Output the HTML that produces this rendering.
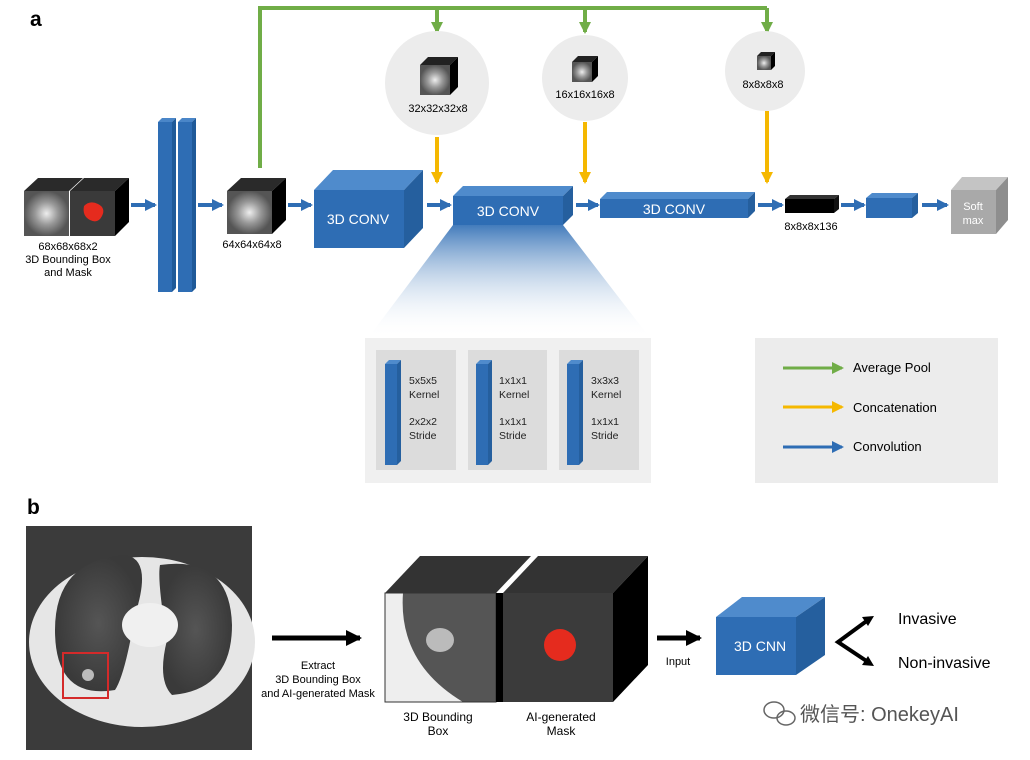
<!DOCTYPE html>
<html><head><meta charset="utf-8"><style>
html,body{margin:0;padding:0;background:#fff;}
svg{display:block;font-family:"Liberation Sans",Arial,sans-serif;}
</style></head><body>
<svg width="1030" height="760" viewBox="0 0 1030 760" xmlns="http://www.w3.org/2000/svg">
<defs>
<marker id="ab" markerWidth="12" markerHeight="12" refX="10" refY="6" orient="auto" markerUnits="userSpaceOnUse"><path d="M0,0 L12,6 L0,12 z" fill="#2e6db4"/></marker>
<marker id="ag" markerWidth="12" markerHeight="12" refX="10" refY="6" orient="auto" markerUnits="userSpaceOnUse"><path d="M0,0 L12,6 L0,12 z" fill="#70ad47"/></marker>
<marker id="ay" markerWidth="12" markerHeight="12" refX="10" refY="6" orient="auto" markerUnits="userSpaceOnUse"><path d="M0,0 L12,6 L0,12 z" fill="#f5b800"/></marker>
<marker id="ak" markerWidth="16" markerHeight="16" refX="14" refY="8" orient="auto" markerUnits="userSpaceOnUse"><path d="M0,0 L16,8 L0,16 z" fill="#000"/></marker>
<linearGradient id="tri" x1="0" y1="0" x2="0" y2="1"><stop offset="0" stop-color="#2e6db4"/><stop offset="1" stop-color="#fff" stop-opacity="0"/></linearGradient>
<radialGradient id="ct" cx="0.5" cy="0.5" r="0.5"><stop offset="0" stop-color="#eee"/><stop offset="0.5" stop-color="#999"/><stop offset="1" stop-color="#555"/></radialGradient>
<radialGradient id="lung" cx="0.5" cy="0.5" r="0.5"><stop offset="0" stop-color="#555"/><stop offset="1" stop-color="#3a3a3a"/></radialGradient>
</defs>

<text x="30" y="26" font-size="21" font-weight="bold">a</text>
<text x="27" y="514" font-size="21" font-weight="bold">b</text>

<polyline points="260,168 260,8 767,8" fill="none" stroke="#70ad47" stroke-width="4"/>
<line x1="437" y1="8" x2="437" y2="32" stroke="#70ad47" stroke-width="4" marker-end="url(#ag)"/>
<line x1="585" y1="8" x2="585" y2="32" stroke="#70ad47" stroke-width="4" marker-end="url(#ag)"/>
<line x1="767" y1="8" x2="767" y2="32" stroke="#70ad47" stroke-width="4" marker-end="url(#ag)"/>

<circle cx="437" cy="83" r="52" fill="#ececec"/>
<circle cx="585" cy="78" r="43" fill="#ececec"/>
<circle cx="765" cy="71" r="40" fill="#ececec"/>
<g><polygon points="420,65 428,57 458,57 450,65" fill="#222"/><polygon points="450,65 458,57 458,87 450,95" fill="#000"/><rect x="420" y="65" width="30" height="30" fill="url(#ct)"/></g>
<g><polygon points="572,62 578,56 598,56 592,62" fill="#222"/><polygon points="592,62 598,56 598,76 592,82" fill="#000"/><rect x="572" y="62" width="20" height="20" fill="url(#ct)"/></g>
<g><polygon points="757,56 761,52 775,52 771,56" fill="#222"/><polygon points="771,56 775,52 775,66 771,70" fill="#000"/><rect x="757" y="56" width="14" height="14" fill="url(#ct)"/></g>
<text x="438" y="112" font-size="11" text-anchor="middle">32x32x32x8</text>
<text x="585" y="98" font-size="11" text-anchor="middle">16x16x16x8</text>
<text x="763" y="88" font-size="11" text-anchor="middle">8x8x8x8</text>

<line x1="437" y1="137" x2="437" y2="182" stroke="#f5b800" stroke-width="4" marker-end="url(#ay)"/>
<line x1="585" y1="122" x2="585" y2="182" stroke="#f5b800" stroke-width="4" marker-end="url(#ay)"/>
<line x1="767" y1="111" x2="767" y2="182" stroke="#f5b800" stroke-width="4" marker-end="url(#ay)"/>

<polygon points="24,191 38,178 83,178 69,191" fill="#2a2a2a"/>
<rect x="24" y="191" width="45" height="45" fill="url(#ct)"/>
<polygon points="70,191 84,178 129,178 115,191" fill="#2a2a2a"/>
<polygon points="115,191 129,178 129,222 115,236" fill="#000"/>
<rect x="70" y="191" width="45" height="45" fill="#3a3a3a"/>
<path d="M84,206 q6,-6 14,-2 q8,4 4,12 q-4,8 -12,4 q-8,-4 -6,-14z" fill="#e52b1e"/>
<text x="68" y="250" font-size="11" text-anchor="middle">68x68x68x2</text>
<text x="68" y="263" font-size="11" text-anchor="middle">3D Bounding Box</text>
<text x="68" y="276" font-size="11" text-anchor="middle">and Mask</text>

<g stroke="#2e6db4" stroke-width="4">
<line x1="131" y1="205" x2="155" y2="205" marker-end="url(#ab)"/>
<line x1="198" y1="205" x2="222" y2="205" marker-end="url(#ab)"/>
<line x1="288" y1="205" x2="311" y2="205" marker-end="url(#ab)"/>
<line x1="427" y1="205" x2="450" y2="205" marker-end="url(#ab)"/>
<line x1="576" y1="205" x2="598" y2="205" marker-end="url(#ab)"/>
<line x1="758" y1="205" x2="782" y2="205" marker-end="url(#ab)"/>
<line x1="841" y1="205" x2="864" y2="205" marker-end="url(#ab)"/>
<line x1="922" y1="205" x2="947" y2="205" marker-end="url(#ab)"/>
</g>

<polygon points="158,122 162,118 176,118 172,122" fill="#4a86c8"/><polygon points="172,122 176,118 176,288 172,292" fill="#1f5a99"/><rect x="158" y="122" width="14" height="170" fill="#2e6db4"/>
<polygon points="178,122 182,118 196,118 192,122" fill="#4a86c8"/><polygon points="192,122 196,118 196,288 192,292" fill="#1f5a99"/><rect x="178" y="122" width="14" height="170" fill="#2e6db4"/>

<polygon points="227,191 241,178 286,178 272,191" fill="#2a2a2a"/>
<polygon points="272,191 286,178 286,220 272,234" fill="#000"/>
<rect x="227" y="191" width="45" height="43" fill="url(#ct)"/>
<text x="252" y="248" font-size="11" text-anchor="middle">64x64x64x8</text>

<polygon points="314,190 333,170 423,170 404,190" fill="#4f8bcc"/>
<polygon points="404,190 423,170 423,228 404,248" fill="#255f9e"/>
<rect x="314" y="190" width="90" height="58" fill="#2e6db4"/>
<text x="358" y="224" font-size="14" fill="#fff" text-anchor="middle">3D CONV</text>

<polygon points="453,225 563,225 650,338 368,338" fill="url(#tri)" opacity="0.9"/>

<polygon points="453,196 463,186 573,186 563,196" fill="#4f8bcc"/>
<polygon points="563,196 573,186 573,215 563,225" fill="#255f9e"/>
<rect x="453" y="196" width="110" height="29" fill="#2e6db4"/>
<text x="508" y="216" font-size="14" fill="#fff" text-anchor="middle">3D CONV</text>

<polygon points="600,199 607,192 755,192 748,199" fill="#4f8bcc"/>
<polygon points="748,199 755,192 755,211 748,218" fill="#255f9e"/>
<rect x="600" y="199" width="148" height="19" fill="#2e6db4"/>
<text x="674" y="214" font-size="14" fill="#fff" text-anchor="middle">3D CONV</text>

<polygon points="785,199 790,195 839,195 834,199" fill="#333"/>
<polygon points="834,199 839,195 839,209 834,213" fill="#111"/>
<rect x="785" y="199" width="49" height="14" fill="#000"/>
<text x="811" y="230" font-size="11" text-anchor="middle">8x8x8x136</text>

<polygon points="866,198 872,193 918,193 912,198" fill="#4f8bcc"/>
<polygon points="912,198 918,193 918,213 912,218" fill="#255f9e"/>
<rect x="866" y="198" width="46" height="20" fill="#2e6db4"/>

<polygon points="951,190 962,177 1008,177 996,190" fill="#c4c4c4"/>
<polygon points="996,190 1008,177 1008,220 996,234" fill="#8e8e8e"/>
<rect x="951" y="190" width="45" height="44" fill="#a9a9a9"/>
<text x="973" y="210" font-size="11" fill="#fff" text-anchor="middle">Soft</text>
<text x="973" y="224" font-size="11" fill="#fff" text-anchor="middle">max</text>

<rect x="365" y="338" width="286" height="145" fill="#f0f0f0"/>
<g font-size="10.5" fill="#222">
<rect x="376" y="350" width="80" height="120" fill="#dcdcdc"/>
<polygon points="385,364 389,360 401,360 397,364" fill="#4f8bcc"/><polygon points="397,364 401,360 401,461 397,465" fill="#255f9e"/><rect x="385" y="364" width="12" height="101" fill="#2e6db4"/>
<text x="409" y="384">5x5x5</text><text x="409" y="398">Kernel</text><text x="409" y="425">2x2x2</text><text x="409" y="439">Stride</text>
<rect x="468" y="350" width="79" height="120" fill="#dcdcdc"/>
<polygon points="476,364 480,360 492,360 488,364" fill="#4f8bcc"/><polygon points="488,364 492,360 492,461 488,465" fill="#255f9e"/><rect x="476" y="364" width="12" height="101" fill="#2e6db4"/>
<text x="499" y="384">1x1x1</text><text x="499" y="398">Kernel</text><text x="499" y="425">1x1x1</text><text x="499" y="439">Stride</text>
<rect x="559" y="350" width="80" height="120" fill="#dcdcdc"/>
<polygon points="567,364 571,360 583,360 579,364" fill="#4f8bcc"/><polygon points="579,364 583,360 583,461 579,465" fill="#255f9e"/><rect x="567" y="364" width="12" height="101" fill="#2e6db4"/>
<text x="591" y="384">3x3x3</text><text x="591" y="398">Kernel</text><text x="591" y="425">1x1x1</text><text x="591" y="439">Stride</text>
</g>

<rect x="755" y="338" width="243" height="145" fill="#ececec"/>
<line x1="783" y1="368" x2="842" y2="368" stroke="#70ad47" stroke-width="3" marker-end="url(#ag)"/>
<line x1="783" y1="407" x2="842" y2="407" stroke="#f5b800" stroke-width="3" marker-end="url(#ay)"/>
<line x1="783" y1="447" x2="842" y2="447" stroke="#2e6db4" stroke-width="3" marker-end="url(#ab)"/>
<text x="853" y="372" font-size="13">Average Pool</text>
<text x="853" y="412" font-size="13">Concatenation</text>
<text x="853" y="451" font-size="13">Convolution</text>

<rect x="26" y="526" width="226" height="224" fill="#3b3b3b"/>
<ellipse cx="142" cy="642" rx="113" ry="85" fill="#e6e6e6"/>
<path d="M55,630 q0,-70 70,-75 q28,4 10,60 q-10,60 -20,75 q-60,10 -60,-60z" fill="url(#lung)"/>
<path d="M160,565 q70,-10 72,60 q0,65 -60,70 q-15,-15 -5,-55 q-10,-60 -7,-75z" fill="url(#lung)"/>
<ellipse cx="150" cy="625" rx="28" ry="22" fill="#f0f0f0"/>
<circle cx="88" cy="675" r="6" fill="#bbb"/>
<rect x="63" y="653" width="45" height="45" fill="none" stroke="#d42a2a" stroke-width="2"/>

<line x1="272" y1="638" x2="360" y2="638" stroke="#000" stroke-width="5" marker-end="url(#ak)"/>
<text x="318" y="669" font-size="11" text-anchor="middle">Extract</text>
<text x="318" y="683" font-size="11" text-anchor="middle">3D Bounding Box</text>
<text x="318" y="697" font-size="11" text-anchor="middle">and AI-generated Mask</text>

<polygon points="385,593 420,556 531,556 496,593" fill="#333"/>
<rect x="385" y="593" width="111" height="109" fill="#555"/>
<path d="M385,593 h18 q-5,70 60,109 h-78z" fill="#eee"/>
<ellipse cx="440" cy="640" rx="14" ry="12" fill="#bbb"/>
<rect x="385" y="593" width="111" height="109" fill="none" stroke="#333"/>
<polygon points="503,593 538,556 648,556 613,593" fill="#333"/>
<polygon points="613,593 648,556 648,665 613,702" fill="#000"/>
<polygon points="496,593 503,593 503,702 496,702" fill="#000"/>
<rect x="503" y="593" width="110" height="109" fill="#3b3b3b"/>
<circle cx="560" cy="645" r="16" fill="#e52b1e"/>
<text x="438" y="721" font-size="12" text-anchor="middle">3D Bounding</text>
<text x="438" y="735" font-size="12" text-anchor="middle">Box</text>
<text x="561" y="721" font-size="12" text-anchor="middle">AI-generated</text>
<text x="561" y="735" font-size="12" text-anchor="middle">Mask</text>

<line x1="657" y1="638" x2="700" y2="638" stroke="#000" stroke-width="5" marker-end="url(#ak)"/>
<text x="678" y="665" font-size="11" text-anchor="middle">Input</text>

<polygon points="716,617 742,597 825,597 796,617" fill="#4f8bcc"/>
<polygon points="796,617 825,597 825,655 796,675" fill="#255f9e"/>
<rect x="716" y="617" width="80" height="58" fill="#2e6db4"/>
<text x="760" y="651" font-size="14" fill="#fff" text-anchor="middle">3D CNN</text>

<polyline points="868,620 838,642 868,662" fill="none" stroke="#000" stroke-width="4"/>
<polygon points="874,616 862,617 868,626" fill="#000"/>
<polygon points="874,666 862,665 868,656" fill="#000"/>
<text x="898" y="624" font-size="16">Invasive</text>
<text x="898" y="668" font-size="16">Non-invasive</text>

<g fill="none" stroke="#666" stroke-width="1.5"><ellipse cx="774" cy="710" rx="10" ry="8"/><ellipse cx="786" cy="718" rx="9" ry="7"/></g>
<text x="800" y="721" font-size="20" fill="#555" font-family="'Liberation Sans','Noto Sans CJK SC',sans-serif">微信号: OnekeyAI</text>
</svg>
</body></html>
